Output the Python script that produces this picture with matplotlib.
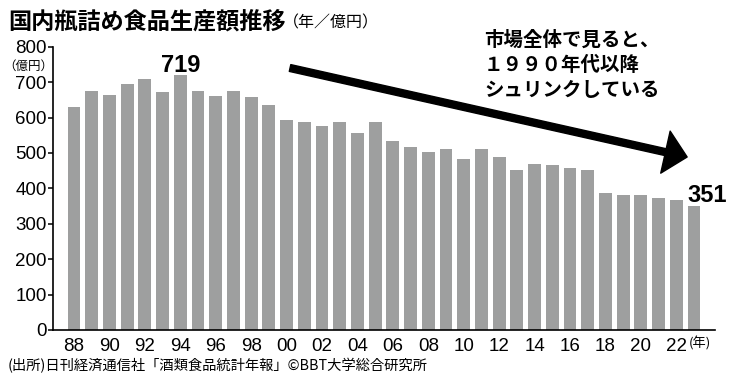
import matplotlib
matplotlib.use("Agg")
import matplotlib.pyplot as plt

# ---- data ----
years = list(range(1988, 2024))
values = [631, 676, 665, 696, 708, 673, 719, 674, 660, 676, 658, 634,
          593, 588, 575, 588, 555, 587, 533, 518, 502, 510, 484, 511,
          489, 452, 468, 466, 458, 452, 388, 380, 381, 373, 368, 351]
xtick_years = list(range(1988, 2023, 2))
xtick_labels = [f"{y % 100:02d}" for y in xtick_years]
yticks = list(range(0, 801, 100))

title = "国内瓶詰め食品生産額推移"
subtitle = "（年／億円）"
note_lines = ["市場全体で見ると、", "１９９０年代以降", "シュリンクしている"]
source = "(出所)日刊経済通信社「酒類食品統計年報」©BBT大学総合研究所"

CJK = ["Noto Sans CJK JP", "DejaVu Sans"]
NUM = ["Liberation Sans", "Noto Sans CJK JP", "DejaVu Sans"]
plt.rcParams["font.family"] = NUM

W, H = 750, 391
fig = plt.figure(figsize=(W / 100, H / 100), dpi=100)
left_px, right_px, top_px, bottom_px = 53, 715, 46.7, 330
ax = fig.add_axes([left_px / W, (H - bottom_px) / H,
                   (right_px - left_px) / W, (bottom_px - top_px) / H])

x = list(range(len(years)))
ax.bar(x, values, width=0.72, color="#9e9f9f", edgecolor="none", zorder=2)

ax.set_ylim(0, 800)
ax.set_xlim(-1.186, len(years) - 1 + 1.186)
ax.set_yticks(yticks)
ax.set_yticklabels([str(v) for v in yticks], fontsize=13.5)
xt_idx = [years.index(y) for y in xtick_years]
ax.set_xticks(xt_idx)
ax.set_xticklabels(xtick_labels, fontsize=13.5)
ax.tick_params(axis="x", length=0, pad=6)
ax.tick_params(axis="y", length=3.6, width=1.1, pad=0.8, direction="out")
for s in ["top", "right"]:
    ax.spines[s].set_visible(False)
for s in ["left", "bottom"]:
    ax.spines[s].set_linewidth(1.2)
    ax.spines[s].set_color("black")

# value labels
i_max = values.index(max(values))
ax.annotate(str(values[i_max]), xy=(i_max, values[i_max]), xytext=(0, 2.5),
            textcoords="offset points", ha="center", va="baseline",
            fontsize=17, fontweight="bold")
i_last = len(values) - 1
ax.annotate(str(values[i_last]), xy=(i_last - 0.36, values[i_last]), xytext=(0, 2.5),
            textcoords="offset points", ha="left", va="baseline",
            fontsize=17, fontweight="bold", annotation_clip=False)

# trend arrow (pixel positions converted to data coords)
def px2data(px, py):
    return ((px - 74) / 17.71, (bottom_px - py) / ((bottom_px - top_px) / 800))

ax.annotate("", xy=px2data(687, 157), xytext=px2data(290, 68),
            arrowprops=dict(arrowstyle="simple,head_length=16,head_width=31,tail_width=5",
                            mutation_scale=1, color="black", shrinkA=0, shrinkB=0),
            annotation_clip=False)

# texts
fig.text(8 / W, 1 - 22.5 / H, title, family=CJK, fontsize=16.7, fontweight="bold",
         ha="left", va="center")
fig.text(283 / W, 1 - 23 / H, subtitle, family=CJK, fontsize=11.5,
         ha="left", va="center")
fig.text(28 / W, 1 - 66 / H, "（億円）", family=CJK, fontsize=9,
         ha="center", va="center")
fig.text(689 / W, 1 - 343 / H, "(年)", family=CJK, fontsize=9.5,
         ha="left", va="center")
for k, line in enumerate(note_lines):
    fig.text(484 / W, 1 - (40 + 25 * k) / H, line, family=CJK, fontsize=14,
             fontweight="bold", ha="left", va="center")
fig.text(8 / W, 1 - 366 / H, source, family=CJK, fontsize=10.3,
         ha="left", va="center")

fig.savefig("out.png", dpi=100)
